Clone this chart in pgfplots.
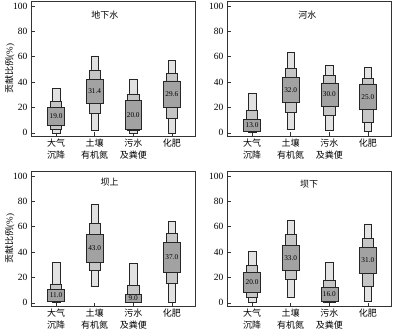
\documentclass[border=0pt]{standalone}
\usepackage{fontspec}
\setmainfont{Liberation Serif}
\newfontfamily\cjk{Noto Sans CJK SC}
\usepackage{pgfplots}
\usepackage{pgfplotstable}
\usepgfplotslibrary{statistics}
\pgfplotsset{compat=1.18}

\definecolor{c95}{HTML}{E2E2E2}
\definecolor{c75}{HTML}{C6C6C6}
\definecolor{c50}{HTML}{A2A2A2}

% x, 95% interval, 75% interval, 50% interval, median (label)
\pgfplotstableread{
x lo95 hi95 lo75 hi75 lo50 hi50 med
1 0.0 35.2 3.0 25.0 6.0 19.8 19.0
2 1.8 60.8 15.7 49.6 23.5 42.0 31.4
3 0.0 42.5 2.0 30.8 2.9 25.6 20.0
4 0.0 57.4 11.2 47.0 20.4 41.0 29.6
}\tA
\pgfplotstableread{
x lo95 hi95 lo75 hi75 lo50 hi50 med
1 0.8 31.3 1.3 17.8 1.3 10.4 13.0
2 2.9 63.4 16.4 51.2 24.0 43.9 32.0
3 2.0 53.0 13.8 45.2 20.9 39.4 30.0
4 1.3 51.7 8.6 43.0 18.3 38.6 25.0
}\tB
\pgfplotstableread{
x lo95 hi95 lo75 hi75 lo50 hi50 med
1 0.5 31.9 1.3 15.0 1.3 10.6 11.0
2 13.0 78.0 25.9 62.4 32.4 53.9 43.0
3 0.8 31.3 0.8 13.7 0.8 6.7 9.0
4 0.8 64.2 15.5 54.7 24.1 47.4 37.0
}\tC
\pgfplotstableread{
x lo95 hi95 lo75 hi75 lo50 hi50 med
1 0.8 40.4 4.7 29.3 8.5 24.1 20.0
2 4.7 64.8 18.9 53.9 25.9 45.3 33.0
3 0.8 32.4 0.8 18.1 1.6 12.4 16.0
4 1.3 62.2 13.0 50.8 23.3 43.5 31.0
}\tD

% one interval box: table, row, low column, high column, width, fill
\newcommand{\bx}[6]{%
  \pgfplotstablegetelem{#2}{#3}\of{#1}\let\bxlo\pgfplotsretval
  \pgfplotstablegetelem{#2}{#4}\of{#1}\let\bxhi\pgfplotsretval
  \edef\bxtmp{\noexpand\addplot[draw=black!85, line width=0.5pt, fill=#6,
    boxplot prepared={draw direction=y, draw position=\the\numexpr#2+1\relax, box extend=#5,
      whisker extend=#5,
      lower whisker=\bxlo, lower quartile=\bxlo, median=\bxlo,
      upper quartile=\bxhi, upper whisker=\bxhi}] coordinates {};}%
  \bxtmp
}
\newcommand{\panel}[1]{%
  \pgfplotsinvokeforeach{0,...,3}{%
    \bx{#1}{##1}{lo95}{hi95}{0.2}{c95}
    \bx{#1}{##1}{lo75}{hi75}{0.29}{c75}
    \bx{#1}{##1}{lo50}{hi50}{0.44}{c50}
  }
  \addplot[only marks, mark=none, nodes near coords, point meta=explicit symbolic,
    nodes near coords style={anchor=center, inner sep=0pt, font=\fontsize{7.3}{7}\selectfont}]
    table[x=x, y expr=(\thisrow{lo50}+\thisrow{hi50})/2, meta=med] {#1};
}

\pgfplotsset{
  panel/.style={
    width=164pt, height=135pt, scale only axis,
    anchor=north west,
    xmin=0.35, xmax=4.6, ymin=-2.5, ymax=104,
    xtick={1,2,3,4},
    xticklabels={{大气\\沉降},{土壤\\有机氮},{污水\\及粪便},{化肥}},
    ytick={0,20,...,100},
    xtick pos=bottom, ytick pos=left,
    tick align=inside, major tick length=3.5pt,
    axis line style={black!80, line width=0.6pt},
    tick style={black!80, line width=0.6pt},
    /pgf/number format/assume math mode=true,
    tick label style={font=\fontsize{9.5}{10}\selectfont},
    xticklabel style={font=\cjk\fontsize{9}{12.5}\selectfont, align=center, yshift=1pt},
    ylabel style={font=\cjk\fontsize{9}{10}\selectfont,
      at={(axis description cs:-0.13,0.5)}, anchor=center},
    title style={font=\cjk\fontsize{9}{10}\selectfont, anchor=center},
  }
}

\begin{document}
\begin{tikzpicture}
\path[use as bounding box] (-31pt,1pt) rectangle (362pt,-328pt);

\begin{axis}[panel, at={(0pt,0pt)}, ylabel={贡献比例{\rmfamily(\%)}},
  title={地下水}, title style={at={(rel axis cs:0.45,0.85)}}]
\panel{\tA}
\end{axis}

\begin{axis}[panel, at={(196pt,0pt)},
  title={河水}, title style={at={(rel axis cs:0.49,0.85)}}]
\panel{\tB}
\end{axis}

\begin{axis}[panel, at={(0pt,-170pt)}, ylabel={贡献比例{\rmfamily(\%)}},
  title={坝上}, title style={at={(rel axis cs:0.48,0.87)}}]
\panel{\tC}
\end{axis}

\begin{axis}[panel, at={(196pt,-170pt)},
  title={坝下}, title style={at={(rel axis cs:0.5,0.86)}}]
\panel{\tD}
\end{axis}
\end{tikzpicture}
\end{document}
